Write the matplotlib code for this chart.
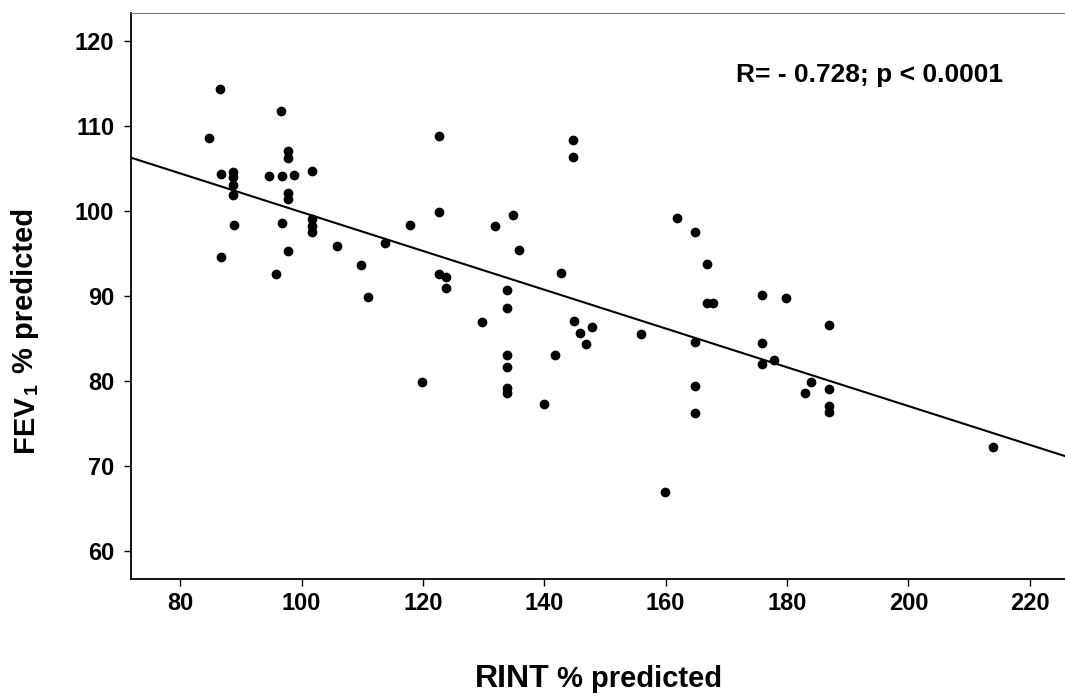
import numpy as np
import matplotlib
matplotlib.use("Agg")
import matplotlib.pyplot as plt

plt.rcParams['font.family'] = ['Liberation Sans', 'DejaVu Sans']
plt.rcParams['font.weight'] = 'bold'

# Data
rint = [86.6, 96.6, 84.7, 97.7, 97.7, 86.7, 88.7, 88.7, 88.7, 88.7,
        94.7, 96.7, 98.7, 101.7, 97.7, 97.7, 88.8, 96.8, 101.7, 101.7,
        101.7, 105.8, 113.7, 117.8, 86.8, 97.8, 95.8, 109.8, 110.9, 122.7,
        144.7, 144.7, 122.7, 131.8, 134.8, 135.8, 161.8, 164.8, 142.8, 122.7,
        123.8, 123.8, 133.8, 133.8, 129.8, 144.9, 145.9, 147.9, 146.9, 155.9,
        164.8, 133.9, 133.9, 133.9, 133.9, 141.8, 119.9, 139.9, 164.9, 164.9,
        166.8, 166.8, 167.8, 175.9, 179.8, 186.9, 175.9, 175.9, 177.8, 183.9,
        182.9, 186.9, 186.9, 186.9, 214.0, 159.9]
fev1 = [114.4, 111.8, 108.6, 107.1, 106.2, 104.3, 104.6, 104.0, 103.1, 101.9,
        104.1, 104.1, 104.2, 104.7, 102.1, 101.4, 98.3, 98.6, 99.1, 98.2,
        97.5, 95.9, 96.2, 98.3, 94.6, 95.3, 92.6, 93.7, 89.9, 108.8,
        108.3, 106.3, 99.9, 98.2, 99.5, 95.4, 99.2, 97.5, 92.7, 92.6,
        92.2, 91.0, 90.7, 88.6, 86.9, 87.1, 85.6, 86.4, 84.3, 85.5,
        84.6, 83.1, 81.6, 79.2, 78.6, 83.1, 79.9, 77.3, 79.4, 76.2,
        93.8, 89.2, 89.2, 90.1, 89.8, 86.6, 84.5, 82.0, 82.5, 79.9,
        78.6, 79.0, 77.1, 76.3, 72.2, 66.9]

x_ticks = [80, 100, 120, 140, 160, 180, 200, 220]
y_ticks = [60, 70, 80, 90, 100, 110, 120]
stat_text = "R= - 0.728; p < 0.0001"

fig = plt.figure(figsize=(10.65, 6.96), dpi=100)
ax = fig.add_axes([131/1065, 1 - 579/696, 1 - 131/1065, (579 - 13)/696])

ax.plot(rint, fev1, 'o', color='black', markersize=6.0, zorder=3)

xlim = (71.9, 225.8)
slope, intercept = np.polyfit(rint, fev1, 1)
xs = np.array(xlim)
ax.plot(xs, intercept + slope * xs, color='black', lw=1.5, zorder=2)

ax.set_xlim(*xlim)
ax.set_ylim(56.7, 123.3)
ax.set_xticks(x_ticks)
ax.set_yticks(y_ticks)
ax.tick_params(axis='both', direction='out', length=5, width=1.0,
               labelsize=17, colors='black')
ax.tick_params(axis='y', pad=7)
ax.tick_params(axis='x', pad=4)
for lab in ax.get_xticklabels() + ax.get_yticklabels():
    lab.set_fontweight('bold')

ax.spines['right'].set_visible(False)
ax.spines['top'].set_color('#777777')
ax.spines['top'].set_linewidth(0.8)
ax.spines['top'].set_linestyle((0, (2, 1)))
ax.spines['left'].set_linewidth(1.3)
ax.spines['bottom'].set_linewidth(1.3)

# stats annotation
fig.text(870/1065, 1 - 82/696, stat_text, ha='center', va='baseline',
         fontsize=19, fontweight='bold')

# x label: "RINT % predicted" with mixed sizes
xb = 1 - 687/696
t_r = fig.text(475/1065, xb, "RINT", ha='left', va='baseline',
               fontsize=23, fontweight='bold')
fig.canvas.draw()
ax.annotate("% predicted", xy=(1, xb), xycoords=(t_r, 'figure fraction'),
            xytext=(5, 0), textcoords='offset points',
            ha='left', va='baseline', fontsize=21, fontweight='bold',
            annotation_clip=False)

# y label: "FEV1 % predicted" rotated
yx = 33/1065
t_f = fig.text(yx, 1 - 452/696, "FEV", rotation=90, rotation_mode='anchor',
               ha='left', va='baseline', fontsize=21, fontweight='bold')
t_1 = ax.annotate("1", xy=(yx, 1), xycoords=('figure fraction', t_f),
                  xytext=(3, 1), textcoords='offset points',
                  rotation=90, rotation_mode='anchor', ha='left', va='baseline',
                  fontsize=14, fontweight='bold', annotation_clip=False)
ax.annotate("% predicted", xy=(yx, 1), xycoords=('figure fraction', t_1),
            xytext=(0, 7), textcoords='offset points',
            rotation=90, rotation_mode='anchor', ha='left', va='baseline',
            fontsize=21, fontweight='bold', annotation_clip=False)

fig.savefig("out.png", dpi=100)
